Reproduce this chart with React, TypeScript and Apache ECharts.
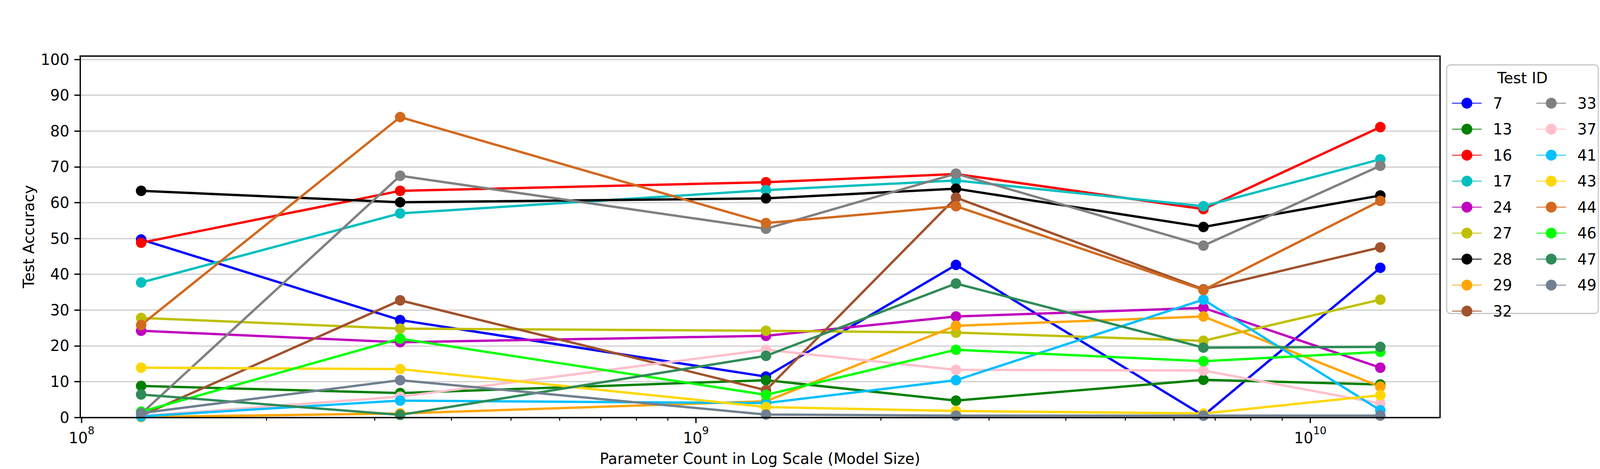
import React, { useEffect, useRef } from "react";
import * as echarts from "echarts";

// ---- data ----
const xValues = [1.25e8, 3.3e8, 1.3e9, 2.65e9, 6.7e9, 1.3e10];
const testIds = ["7", "13", "16", "17", "24", "27", "28", "29", "32", "33", "37", "41", "43", "44", "46", "47", "49"];

const s7 = [49.7, 27.2, 11.4, 42.6, 0.5, 41.8];
const s13 = [8.8, 6.8, 10.4, 4.7, 10.5, 9.2];
const s16 = [48.8, 63.3, 65.7, 68.0, 58.2, 81.1];
const s17 = [37.7, 57.0, 63.5, 66.2, 59.0, 72.1];
const s24 = [24.2, 21.0, 22.8, 28.2, 30.6, 13.9];
const s27 = [27.8, 24.8, 24.2, 23.7, 21.4, 32.9];
const s28 = [63.3, 60.1, 61.2, 63.9, 53.2, 62.0];
const s29 = [0.1, 1.1, 4.5, 25.6, 28.2, 8.6];
const s32 = [0.5, 32.7, 7.6, 61.4, 35.8, 47.5];
const s33 = [1.0, 67.5, 52.7, 68.1, 48.0, 70.3];
const s37 = [0.4, 5.8, 18.9, 13.3, 13.1, 3.9];
const s41 = [0.3, 4.7, 4.0, 10.4, 32.9, 2.0];
const s43 = [13.9, 13.5, 2.9, 1.8, 1.1, 6.2];
const s44 = [25.8, 83.9, 54.3, 59.0, 35.6, 60.5];
const s46 = [1.6, 22.0, 6.3, 18.9, 15.7, 18.3];
const s47 = [6.4, 0.7, 17.2, 37.4, 19.5, 19.7];
const s49 = [1.2, 10.4, 0.8, 0.5, 0.5, 0.5];

const seriesValues = [s7, s13, s16, s17, s24, s27, s28, s29, s32, s33, s37, s41, s43, s44, s46, s47, s49];
const seriesColors = [
  "#0000ff", "#008000", "#ff0000", "#00bfbf", "#bf00bf", "#bfbf00", "#000000", "#ffa500", "#a0522d",
  "#808080", "#ffc0cb", "#00bfff", "#ffd700", "#d2691e", "#00ff00", "#2e8b57", "#708090",
];

const yTickValues = [0, 10, 20, 30, 40, 50, 60, 70, 80, 90, 100];
const xMajorTicks = [1e8, 1e9, 1e10];
const xMajorExponents = ["8", "9", "10"];
const xMinorTicks = [
  2e8, 3e8, 4e8, 5e8, 6e8, 7e8, 8e8, 9e8,
  2e9, 3e9, 4e9, 5e9, 6e9, 7e9, 8e9, 9e9,
];

const FONT = "DejaVu Sans";

export default function App() {
  const ref = useRef<HTMLDivElement>(null);
  const W = typeof window !== "undefined" && window.innerWidth ? window.innerWidth : 4800;
  const H = typeof window !== "undefined" && window.innerHeight ? window.innerHeight : 1200;

  useEffect(() => {
    if (!ref.current) return;
    const sx = W / 4800;
    const sy = H / 1200;
    const X = (v: number) => v * sx;
    const Y = (v: number) => v * sy;
    const FS = 41.7 * Math.min(1, Math.sqrt(sx));
    const chart = echarts.init(ref.current, null, { renderer: "svg" });
    const spine = { color: "#000", width: 3.3 };

    const lineSeries = testIds.map((id, k) => ({
      type: "line",
      name: id,
      data: xValues.map((x, i) => [x, seriesValues[k][i]]),
      xAxisIndex: 0,
      yAxisIndex: 0,
      symbol: "circle",
      symbolSize: 27,
      showSymbol: true,
      color: seriesColors[k],
      lineStyle: { width: 6, color: seriesColors[k] },
      itemStyle: { color: seriesColors[k] },
      emphasis: { disabled: true },
      silent: true,
      z: 2,
    }));

    const tickData = [
      ...xMajorTicks.map((v, i) => [v, 0, 1, i]),
      ...xMinorTicks.map((v) => [v, 0, 0, -1]),
    ];

    const tickSeries = {
      type: "custom",
      xAxisIndex: 0,
      yAxisIndex: 0,
      silent: true,
      clip: false,
      z: 6,
      encode: { x: 0, y: 1 },
      data: tickData,
      renderItem: (params: any, api: any) => {
        const v = api.value(0);
        const major = api.value(2) === 1;
        const idx = api.value(3);
        const p = api.coord([v, 0]);
        const len = major ? 14.5 : 8.3;
        const children: any[] = [
          {
            type: "line",
            shape: { x1: p[0], y1: p[1], x2: p[0], y2: p[1] + len },
            style: { stroke: "#000", lineWidth: major ? 3.3 : 2.5 },
          },
        ];
        if (major) {
          children.push({
            type: "text",
            x: p[0],
            y: p[1] + Y(20),
            style: {
              text: `{a|10}{b|${xMajorExponents[idx]}}`,
              align: "center",
              verticalAlign: "top",
              fill: "#000",
              fontFamily: FONT,
              fontSize: FS,
              rich: {
                a: { fontSize: FS, lineHeight: 52, verticalAlign: "bottom", fontFamily: FONT, fill: "#000" },
                b: { fontSize: FS * 0.7, lineHeight: 26, verticalAlign: "top", fontFamily: FONT, fill: "#000" },
              },
            },
          });
        }
        return { type: "group", children };
      },
    };

    const legendCommon = {
      orient: "vertical",
      top: Y(244.5),
      itemWidth: X(89),
      itemHeight: 35,
      itemGap: Y(62.5) - 35,
      padding: 0,
      selectedMode: false,
      textStyle: { fontSize: FS, color: "#000", fontFamily: FONT, lineHeight: 35, padding: [0, 0, 0, X(28)] },
    };

    chart.setOption({
      animation: false,
      backgroundColor: "#ffffff",
      textStyle: { fontFamily: FONT },
      grid: { left: X(240), right: W - X(4320), top: Y(143), bottom: H - Y(1068), outerBoundsMode: "none" },
      xAxis: [
        {
          type: "log",
          logBase: 10,
          min: 9.94e7,
          max: 1.626e10,
          position: "bottom",
          z: 5,
          axisLine: { show: true, onZero: false, lineStyle: spine },
          axisTick: { show: false },
          axisLabel: { show: false },
          splitLine: { show: false },
          minorTick: { show: false },
          name: "Parameter Count in Log Scale (Model Size)",
          nameLocation: "middle",
          nameGap: Y(86),
          nameTextStyle: { fontSize: FS, color: "#000", fontFamily: FONT },
        },
        {
          type: "value",
          min: 0,
          max: 1,
          position: "top",
          z: 5,
          axisLine: { show: true, onZero: false, lineStyle: spine },
          axisTick: { show: false },
          axisLabel: { show: false },
          splitLine: { show: false },
        },
      ],
      yAxis: [
        {
          type: "value",
          min: 0,
          max: 101,
          interval: 10,
          position: "left",
          axisLine: { show: true, onZero: false, lineStyle: spine },
          axisTick: { show: true, length: 14.5, lineStyle: { color: "#000", width: 3.3 }, customValues: yTickValues },
          axisLabel: { margin: X(32), fontSize: FS, color: "#000", fontFamily: FONT, customValues: yTickValues },
          splitLine: { show: true, lineStyle: { color: "#d3d3d3", width: 3.3 } },
          name: "Test Accuracy",
          nameLocation: "middle",
          nameGap: X(129),
          nameTextStyle: { fontSize: FS, color: "#000", fontFamily: FONT },
        },
        {
          type: "value",
          min: 0,
          max: 1,
          position: "right",
          axisLine: { show: true, onZero: false, lineStyle: spine },
          axisTick: { show: false },
          axisLabel: { show: false },
          splitLine: { show: false },
        },
      ],
      legend: [
        { ...legendCommon, left: X(4355), data: testIds.slice(0, 9) },
        { ...legendCommon, left: X(4608), data: testIds.slice(9) },
      ],
      graphic: [
        {
          type: "rect",
          z: 0,
          shape: { x: X(4340), y: Y(166), width: X(455), height: Y(636), r: 10 },
          style: { fill: "rgba(255,255,255,0.8)", stroke: "#cccccc", lineWidth: 3.3 },
        },
        {
          type: "text",
          z: 1,
          x: X(4567.5),
          y: Y(199),
          style: { text: "Test ID", fontSize: FS, fontFamily: FONT, fill: "#000", align: "center", verticalAlign: "middle" },
        },
      ],
      series: [...lineSeries, tickSeries],
    });

    return () => chart.dispose();
  }, []);

  return (
    <div
      ref={ref}
      style={{ position: "absolute", left: 0, top: 0, width: W, height: H }}
    />
  );
}
